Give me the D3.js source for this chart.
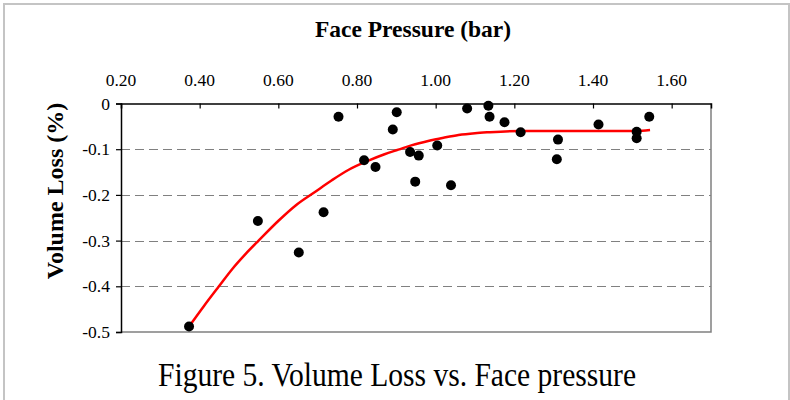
<!DOCTYPE html>
<html>
<head>
<meta charset="utf-8">
<script src="https://cdn.jsdelivr.net/npm/d3@7"></script>
<style>
  body { margin: 0; background: #fff; }
</style>
</head>
<body>
<div id="chart"></div>
<script>
// measured points (face pressure in bar, volume loss in %)
const pressure = [0.373, 0.548, 0.652, 0.715, 0.753, 0.818, 0.847, 0.891, 0.901, 0.935, 0.948, 0.957, 1.004,
  1.039, 1.080, 1.134, 1.137, 1.175, 1.216, 1.311, 1.308, 1.414, 1.511, 1.511, 1.543];
const volumeLoss = [-0.488, -0.257, -0.326, -0.238, -0.029, -0.124, -0.139, -0.057, -0.019, -0.106, -0.171, -0.114, -0.092,
  -0.179, -0.011, -0.005, -0.029, -0.041, -0.063, -0.079, -0.122, -0.046, -0.062, -0.076, -0.029];

// fitted curve
const fitPressure = [0.373, 0.411, 0.449, 0.483, 0.517, 0.551, 0.601, 0.644, 0.694, 0.736, 0.779, 0.829, 0.870,
  0.905, 0.940, 0.981, 1.020, 1.058, 1.100, 1.134, 1.218, 1.300, 1.400, 1.510, 1.545];
const fitLoss = [-0.488, -0.443, -0.400, -0.362, -0.329, -0.299, -0.256, -0.223, -0.193, -0.168, -0.145, -0.125, -0.111,
  -0.101, -0.091, -0.082, -0.075, -0.069, -0.065, -0.063, -0.060, -0.060, -0.060, -0.060, -0.058];

const xTicks = [0.2, 0.4, 0.6, 0.8, 1.0, 1.2, 1.4, 1.6];
const yTicks = [0, -0.1, -0.2, -0.3, -0.4, -0.5];
const gridTicks = [-0.1, -0.2, -0.3, -0.4];

const serif = "'Liberation Serif', 'Times New Roman', serif";
const width = 790, height = 400;
const plot = { left: 121, right: 711, top: 103.5, bottom: 332 };

const svg = d3.select("#chart")
  .append("svg")
  .attr("width", width)
  .attr("height", height)
  .attr("font-family", serif);

// outer chart frame (only left, top, right visible)
svg.append("rect")
  .attr("x", 4)
  .attr("y", 4)
  .attr("width", 785)
  .attr("height", 430)
  .attr("fill", "none")
  .attr("stroke", "#c4c4c4")
  .attr("stroke-width", 2);

const x = d3.scaleLinear().domain([0.2, 1.7]).range([plot.left, plot.right]);
const y = d3.scaleLinear().domain([-0.5, 0]).range([plot.bottom, plot.top]);

// dashed gridlines
svg.append("g")
  .selectAll("line")
  .data(gridTicks)
  .enter()
  .append("line")
  .attr("x1", plot.left)
  .attr("x2", plot.right)
  .attr("y1", d => Math.round(y(d)) + 0.5)
  .attr("y2", d => Math.round(y(d)) + 0.5)
  .attr("stroke", "#808080")
  .attr("stroke-width", 1)
  .attr("stroke-dasharray", "9,5");

// plot area border on right and bottom
svg.append("path")
  .attr("d", `M${plot.right},${plot.top} V${plot.bottom} H${plot.left}`)
  .attr("fill", "none")
  .attr("stroke", "#808080")
  .attr("stroke-width", 1.5);

// x axis sits at y = 0, on top of the plot
const xAxis = svg.append("g")
  .attr("transform", `translate(0,${plot.top})`)
  .call(d3.axisBottom(x).tickValues(xTicks).tickSize(5).tickFormat(""));
xAxis.select(".domain").attr("stroke", "#000").attr("stroke-width", 1.5);
xAxis.selectAll(".tick line").attr("stroke", "#000").attr("stroke-width", 1.2);

svg.append("g")
  .selectAll("text")
  .data(xTicks)
  .enter()
  .append("text")
  .attr("x", d => x(d))
  .attr("y", 86)
  .attr("text-anchor", "middle")
  .attr("font-family", serif)
  .attr("font-size", 17.5)
  .attr("fill", "#000")
  .text(d => d.toFixed(2));

const yAxis = svg.append("g")
  .attr("transform", `translate(${plot.left},0)`)
  .call(d3.axisLeft(y).tickValues(yTicks).tickSize(5).tickPadding(6)
    .tickFormat(d => d === 0 ? "0" : d.toFixed(1)));
yAxis.attr("font-family", serif);
yAxis.select(".domain").attr("stroke", "#000").attr("stroke-width", 1.5);
yAxis.selectAll(".tick line").attr("stroke", "#000").attr("stroke-width", 1.2);
yAxis.selectAll(".tick text")
  .attr("font-size", 17.5)
  .attr("font-family", serif)
  .attr("fill", "#000");

// fitted curve
const fitData = fitPressure.map((p, i) => ({ p, v: fitLoss[i] }));
svg.append("path")
  .datum(fitData)
  .attr("d", d3.line().curve(d3.curveMonotoneX).x(d => x(d.p)).y(d => y(d.v)))
  .attr("fill", "none")
  .attr("stroke", "#ff0000")
  .attr("stroke-width", 2.5);

// measured points
svg.append("g")
  .selectAll("circle")
  .data(pressure.map((p, i) => ({ p, v: volumeLoss[i] })))
  .enter()
  .append("circle")
  .attr("cx", d => x(d.p))
  .attr("cy", d => y(d.v))
  .attr("r", 5)
  .attr("fill", "#000");

// titles
svg.append("text")
  .attr("x", 413)
  .attr("y", 37)
  .attr("text-anchor", "middle")
  .attr("font-size", 23.5)
  .attr("font-weight", "bold")
  .text("Face Pressure (bar)");

svg.append("text")
  .attr("transform", "translate(63,191) rotate(-90)")
  .attr("text-anchor", "middle")
  .attr("font-size", 24)
  .attr("font-weight", "bold")
  .text("Volume Loss (%)");

svg.append("text")
  .attr("x", 158)
  .attr("y", 386)
  .attr("font-size", 33)
  .attr("textLength", 478)
  .attr("lengthAdjust", "spacingAndGlyphs")
  .text("Figure 5. Volume Loss vs. Face pressure");
</script>
</body>
</html>
